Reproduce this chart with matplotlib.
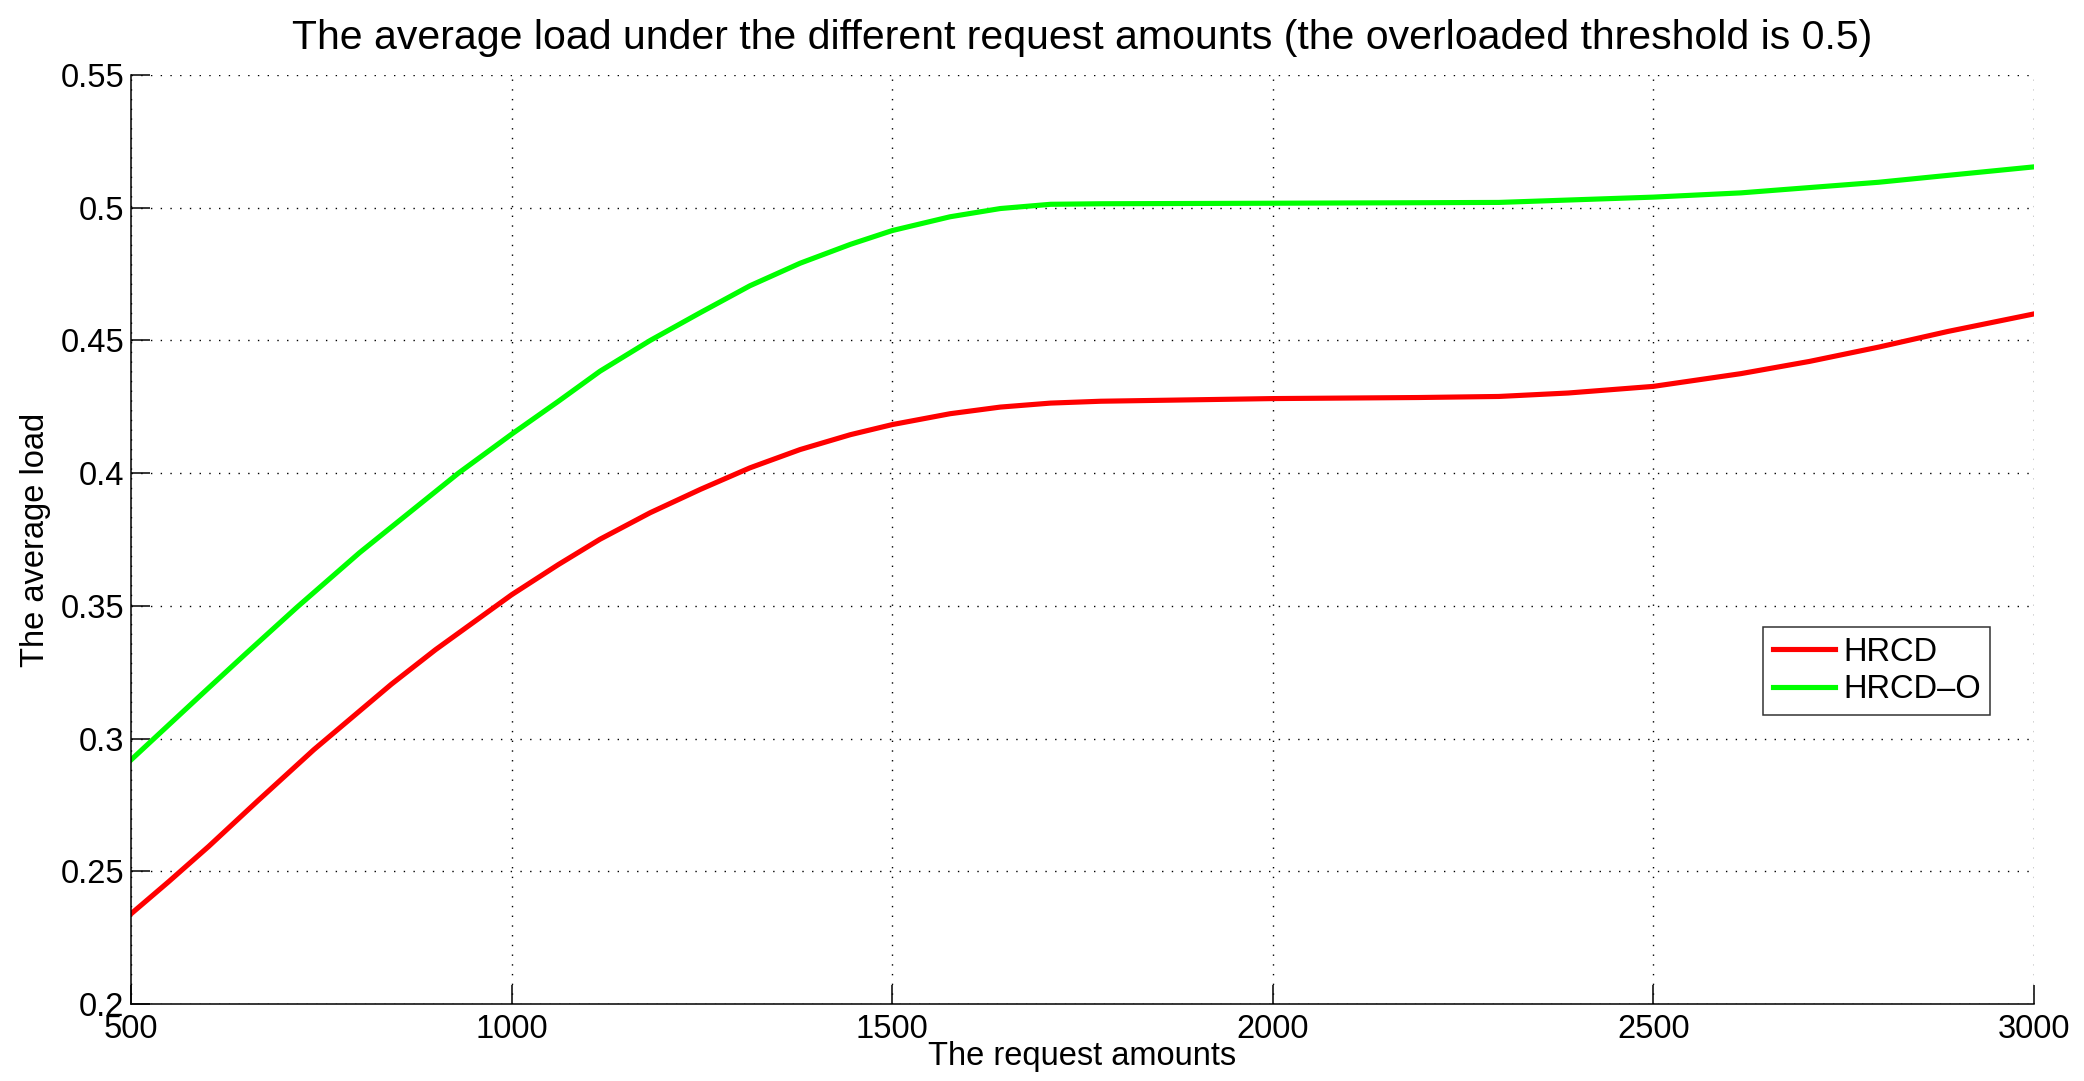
import matplotlib
matplotlib.use("Agg")
import matplotlib.pyplot as plt

plt.rcParams["font.family"] = ["Liberation Sans", "DejaVu Sans"]

# HRCD curve
hrcd_x = [500, 549, 602, 667, 740, 842, 900, 1000, 1061, 1116, 1182, 1248, 1313,
          1379, 1445, 1500, 1576, 1642, 1708, 1774, 2000, 2191, 2297, 2388, 2500,
          2615, 2705, 2796, 2887, 3000]
hrcd_load = [0.234, 0.246, 0.2594, 0.2767, 0.2958, 0.3205, 0.3335, 0.3542, 0.3655,
             0.3751, 0.3851, 0.3939, 0.402, 0.4089, 0.4145, 0.4183, 0.4224, 0.4249,
             0.4264, 0.4271, 0.4281, 0.4285, 0.4289, 0.4302, 0.4327, 0.4375, 0.4421,
             0.4475, 0.4534, 0.46]

# HRCD-O curve
hrcd_o_x = [500, 550, 600, 650, 718, 800, 842, 930, 1000, 1061, 1116, 1182, 1248,
            1313, 1379, 1445, 1500, 1576, 1642, 1708, 1774, 2000, 2200, 2297, 2388,
            2500, 2615, 2705, 2796, 2887, 3000]
hrcd_o_load = [0.292, 0.3053, 0.3186, 0.3318, 0.3495, 0.370, 0.3797, 0.40, 0.4147,
               0.427, 0.4384, 0.45, 0.4605, 0.4706, 0.4791, 0.4862, 0.4914, 0.4966,
               0.4997, 0.5013, 0.5015, 0.5017, 0.5019, 0.502, 0.5029, 0.504, 0.5056,
               0.5076, 0.5096, 0.5122, 0.5154]

x_ticks = [500, 1000, 1500, 2000, 2500, 3000]
y_ticks = [0.2, 0.25, 0.3, 0.35, 0.4, 0.45, 0.5, 0.55]
y_tick_labels = ["0.2", "0.25", "0.3", "0.35", "0.4", "0.45", "0.5", "0.55"]

fig = plt.figure(figsize=(20.84, 10.81), dpi=100)
ax = fig.add_axes([0.0629, 0.0712, 0.976 - 0.0629, 0.9306 - 0.0712])

ax.plot(hrcd_x, hrcd_load, color="#ff0000", linewidth=3.7,
        solid_joinstyle="round", label="HRCD")
ax.plot(hrcd_o_x, hrcd_o_load, color="#00ff00", linewidth=3.7,
        solid_joinstyle="round", label="HRCD\u2013O")

ax.set_xlim(500, 3000)
ax.set_ylim(0.2, 0.55)
ax.set_xticks(x_ticks)
ax.set_xticklabels([str(t) for t in x_ticks])
ax.set_yticks(y_ticks)
ax.set_yticklabels(y_tick_labels)

ax.grid(True, color="black", linewidth=1.0, linestyle=(0, (1, 6)))
ax.spines["top"].set_visible(False)
ax.spines["right"].set_visible(False)
for s in ["left", "bottom"]:
    ax.spines[s].set_linewidth(1.1)

ax.tick_params(direction="in", length=14, width=1.1, labelsize=23.5)
ax.tick_params(axis="x", pad=7)
ax.tick_params(axis="y", pad=5)

ax.set_title("The average load under the different request amounts (the overloaded threshold is 0.5)",
             fontsize=29.5, pad=19)
ax.set_xlabel("The request amounts", fontsize=23.5)
ax.xaxis.set_label_coords(0.5, -0.040)
ax.set_ylabel("The average load", fontsize=23.5)
ax.yaxis.set_label_coords(-0.042, 0.5)

leg = ax.legend(loc="upper left", bbox_to_anchor=(0.846, 0.42),
                bbox_transform=fig.transFigure, fontsize=23.5, frameon=True,
                fancybox=False, handlelength=1.9, handletextpad=0.25,
                labelspacing=0.2, borderpad=0.3, borderaxespad=0)
leg.get_frame().set_edgecolor("black")
leg.get_frame().set_linewidth(1.1)

fig.savefig("out.png", dpi=100)
